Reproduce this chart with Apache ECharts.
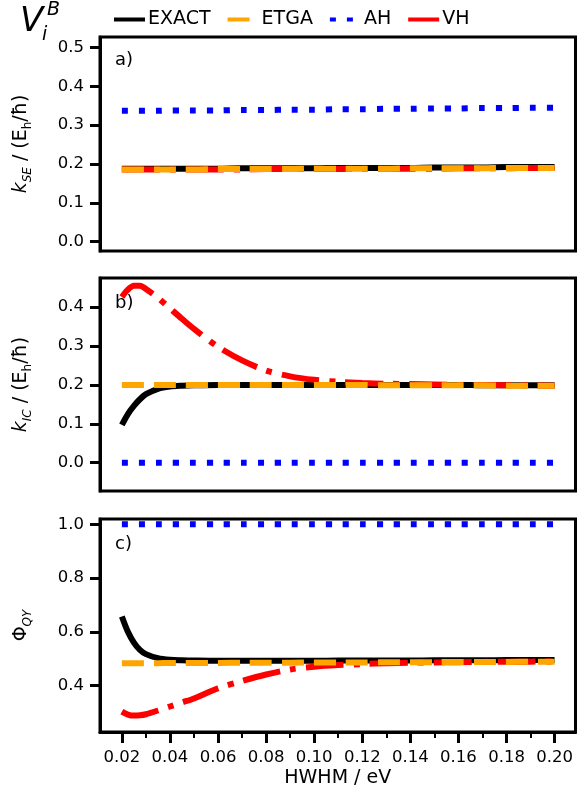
<!DOCTYPE html>
<html>
<head>
<meta charset="utf-8">
<script src="https://cdn.jsdelivr.net/npm/echarts@6/dist/echarts.min.js"></script>
<style>
  html, body { margin: 0; padding: 0; background: #fff; }
  #chart { width: 577px; height: 792px; }
</style>
</head>
<body>
<div id="chart"></div>
<script>
// HWHM values (eV)
const hwhm = [0.02, 0.0225, 0.025, 0.0275, 0.03, 0.035, 0.04, 0.045, 0.05, 0.06, 0.07, 0.08,
  0.09, 0.10, 0.11, 0.12, 0.13, 0.14, 0.15, 0.16, 0.17, 0.18, 0.19, 0.20];

// panel a) k_SE
const seExact = [0.188, 0.188, 0.188, 0.188, 0.188, 0.188, 0.188, 0.188, 0.188, 0.188, 0.189, 0.189,
  0.189, 0.189, 0.190, 0.190, 0.190, 0.190, 0.191, 0.191, 0.191, 0.192, 0.192, 0.192];
const seEtga = [0.186, 0.186, 0.186, 0.186, 0.186, 0.186, 0.186, 0.186, 0.186, 0.187, 0.187, 0.187,
  0.187, 0.188, 0.188, 0.188, 0.188, 0.189, 0.189, 0.189, 0.189, 0.190, 0.190, 0.190];
const seAh = [0.337, 0.337, 0.337, 0.337, 0.337, 0.337, 0.338, 0.338, 0.338, 0.338, 0.339, 0.339,
  0.340, 0.340, 0.341, 0.341, 0.342, 0.342, 0.343, 0.343, 0.344, 0.344, 0.345, 0.345];
const seVh = [0.186, 0.186, 0.186, 0.186, 0.186, 0.186, 0.186, 0.186, 0.186, 0.186, 0.186, 0.187,
  0.187, 0.187, 0.187, 0.188, 0.188, 0.188, 0.188, 0.189, 0.189, 0.189, 0.190, 0.190];

// panel b) k_IC
const icExact = [0.097, 0.125, 0.146, 0.163, 0.176, 0.190, 0.196, 0.198, 0.199, 0.200, 0.200, 0.200,
  0.200, 0.200, 0.200, 0.200, 0.200, 0.200, 0.200, 0.200, 0.199, 0.199, 0.199, 0.199];
const icEtga = [0.200, 0.200, 0.200, 0.200, 0.200, 0.200, 0.200, 0.200, 0.200, 0.200, 0.200, 0.200,
  0.200, 0.200, 0.200, 0.200, 0.199, 0.199, 0.199, 0.199, 0.199, 0.198, 0.198, 0.198];
const icAh = [0, 0, 0, 0, 0, 0, 0, 0, 0, 0, 0, 0, 0, 0, 0, 0, 0, 0, 0, 0, 0, 0, 0, 0];
const icVh = [0.426, 0.445, 0.455, 0.455, 0.447, 0.424, 0.397, 0.370, 0.344, 0.298, 0.263, 0.237,
  0.222, 0.213, 0.208, 0.205, 0.203, 0.202, 0.201, 0.200, 0.200, 0.199, 0.199, 0.198];

// panel c) Phi_QY
const qyExact = [0.657, 0.600, 0.560, 0.533, 0.517, 0.502, 0.496, 0.494, 0.493, 0.492, 0.492, 0.492,
  0.492, 0.492, 0.493, 0.493, 0.493, 0.493, 0.494, 0.494, 0.494, 0.495, 0.495, 0.495];
const qyEtga = [0.483, 0.483, 0.483, 0.483, 0.483, 0.483, 0.484, 0.484, 0.484, 0.484, 0.485, 0.485,
  0.485, 0.486, 0.486, 0.486, 0.487, 0.487, 0.487, 0.488, 0.488, 0.488, 0.489, 0.489];
const qyAh = [1, 1, 1, 1, 1, 1, 1, 1, 1, 1, 1, 1, 1, 1, 1, 1, 1, 1, 1, 1, 1, 1, 1, 1];
const qyVh = [0.303, 0.292, 0.288, 0.289, 0.293, 0.307, 0.322, 0.337, 0.352, 0.390, 0.417, 0.441,
  0.460, 0.470, 0.476, 0.480, 0.483, 0.485, 0.486, 0.487, 0.488, 0.489, 0.489, 0.490];

const xTicks = [0.02, 0.04, 0.06, 0.08, 0.10, 0.12, 0.14, 0.16, 0.18, 0.20];
const xMinorTicks = [0.01, 0.03, 0.05, 0.07, 0.09, 0.11, 0.13, 0.15, 0.17, 0.19];
const yTicksA = [0.0, 0.1, 0.2, 0.3, 0.4, 0.5];
const yTicksB = [0.0, 0.1, 0.2, 0.3, 0.4];
const yTicksC = [0.4, 0.6, 0.8, 1.0];

const FONT = 'DejaVu Sans';
const LW = 6;

const chart = echarts.init(document.getElementById('chart'));

const grids = [
  { left: 100, right: 1.5, top: 37, height: 214 },
  { left: 100, right: 1.5, top: 278, height: 213 },
  { left: 100, right: 1.5, top: 519, height: 213 }
].map(g => Object.assign(g, { show: true, borderColor: '#000', borderWidth: 3, containLabel: false }));

function hiddenX(gi) {
  return { type: 'value', gridIndex: gi, min: 0.0109, max: 0.2087, show: false };
}

const nameRich = {
  n: { fontFamily: FONT, fontSize: 19, color: '#000', lineHeight: 26, verticalAlign: 'middle' },
  i: { fontFamily: FONT, fontSize: 19, color: '#000', fontStyle: 'italic', lineHeight: 26, verticalAlign: 'middle' },
  s: { fontFamily: FONT, fontSize: 12, color: '#000', fontStyle: 'italic', lineHeight: 12, verticalAlign: 'bottom' },
  u: { fontFamily: FONT, fontSize: 12, color: '#000', lineHeight: 12, verticalAlign: 'bottom' }
};

function yAxis(gi, min, max, ticks, name) {
  return {
    type: 'value', gridIndex: gi, min: min, max: max,
    name: name, nameLocation: 'middle', nameGap: 66, nameRotate: 90,
    nameTextStyle: { rich: nameRich },
    axisLine: { show: true, lineStyle: { color: '#000', width: 3 } },
    axisTick: { show: true, length: 10, inside: false, customValues: ticks, lineStyle: { color: '#000', width: 3 } },
    axisLabel: {
      show: true, customValues: ticks, margin: 16, color: '#000', fontFamily: FONT, fontSize: 16.5,
      formatter: v => v.toFixed(1)
    },
    splitLine: { show: false }
  };
}

function pair(xs, ys) {
  return xs.map((x, k) => [x, ys[k]]);
}

function panelSeries(gi, exact, etga, ah, vh) {
  const base = { type: 'line', xAxisIndex: gi, yAxisIndex: gi, symbol: 'none', smooth: 0.3, animation: false };
  return [
    Object.assign({}, base, { name: 'EXACT', z: 2, data: pair(hwhm, exact),
      lineStyle: { color: '#000000', width: LW }, itemStyle: { color: '#000000' } }),
    Object.assign({}, base, { name: 'VH', z: 3, data: pair(hwhm, vh),
      lineStyle: { color: '#ff0000', width: LW, type: [38, 10, 6, 10], cap: 'butt' }, itemStyle: { color: '#ff0000' } }),
    Object.assign({}, base, { name: 'AH', z: 4, data: pair(hwhm, ah),
      lineStyle: { color: '#0000ff', width: LW, type: [6, 11], cap: 'butt' }, itemStyle: { color: '#0000ff' } }),
    Object.assign({}, base, { name: 'ETGA', z: 5, data: pair(hwhm, etga),
      lineStyle: { color: '#ffa500', width: LW, type: [22, 10], cap: 'butt' }, itemStyle: { color: '#ffa500' } })
  ];
}

const panelLabel = (txt, y) => ({
  type: 'text', left: 115, top: y,
  style: { text: txt, fontFamily: FONT, fontSize: 18, fill: '#000' }
});

chart.setOption({
  backgroundColor: '#fff',
  animation: false,
  legend: {
    data: ['EXACT', 'ETGA', 'AH', 'VH'],
    top: 5, left: 107, itemWidth: 31, itemHeight: 14, itemGap: 15,
    itemStyle: { opacity: 0 },
    lineStyle: { width: 4 },
    textStyle: { fontFamily: FONT, fontSize: 19, color: '#000', padding: [0, 0, 0, -2] },
    selectedMode: false
  },
  grid: grids,
  xAxis: [
    hiddenX(0),
    hiddenX(1),
    {
      type: 'value', gridIndex: 2, min: 0.0109, max: 0.2087,
      name: 'HWHM / eV', nameLocation: 'middle', nameGap: 37,
      nameTextStyle: { fontFamily: FONT, fontSize: 19, color: '#000' },
      axisLine: { show: true, onZero: false, lineStyle: { color: '#000', width: 3 } },
      axisTick: { show: true, length: 11, customValues: xTicks, lineStyle: { color: '#000', width: 3 } },
      axisLabel: { show: true, customValues: xTicks, margin: 17, color: '#000', fontFamily: FONT, fontSize: 16.5,
        formatter: v => v.toFixed(2) },
      splitLine: { show: false }
    },
    {
      type: 'value', gridIndex: 2, min: 0.0109, max: 0.2087, position: 'bottom',
      axisLine: { show: false },
      axisTick: { show: true, length: 6, customValues: xMinorTicks, lineStyle: { color: '#000', width: 2 } },
      axisLabel: { show: false },
      splitLine: { show: false }
    }
  ],
  yAxis: [
    yAxis(0, -0.024, 0.527, yTicksA, '{i|k}{s|SE}{n| / (E}{u|h}{n|/ħ)}'),
    yAxis(1, -0.073, 0.475, yTicksB, '{i|k}{s|IC}{n| / (E}{u|h}{n|/ħ)}'),
    yAxis(2, 0.227, 1.02, yTicksC, '{n|Φ}{s|QY}')
  ],
  series: [].concat(
    panelSeries(0, seExact, seEtga, seAh, seVh),
    panelSeries(1, icExact, icEtga, icAh, icVh),
    panelSeries(2, qyExact, qyEtga, qyAh, qyVh)
  ),
  graphic: [
    { type: 'text', left: 20, top: 5, style: { text: 'V', fontFamily: FONT, fontSize: 34, fontStyle: 'italic', fill: '#000' } },
    { type: 'text', left: 47, top: 1, style: { text: 'B', fontFamily: FONT, fontSize: 19, fontStyle: 'italic', fill: '#000' } },
    { type: 'text', left: 42, top: 26, style: { text: 'i', fontFamily: FONT, fontSize: 19, fontStyle: 'italic', fill: '#000' } },
    panelLabel('a)', 51),
    panelLabel('b)', 294),
    panelLabel('c)', 535)
  ]
});
</script>
</body>
</html>
